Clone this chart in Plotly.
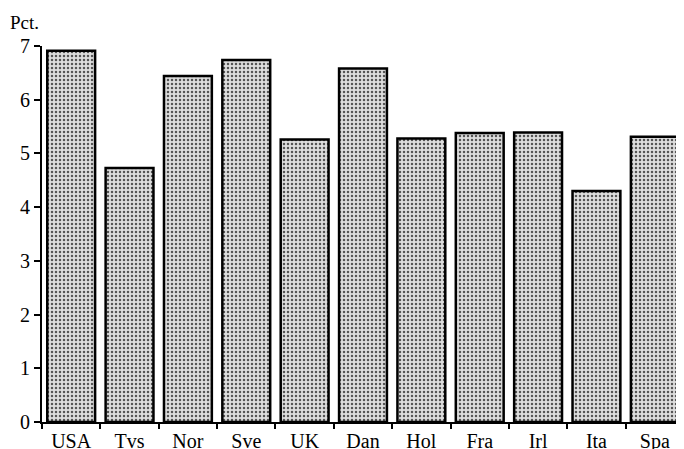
import plotly.graph_objects as go

countries = ["USA", "Tvs", "Nor", "Sve", "UK", "Dan", "Hol", "Fra", "Irl", "Ita", "Spa"]
values = [6.91, 4.73, 6.44, 6.74, 5.26, 6.58, 5.28, 5.38, 5.39, 4.30, 5.31]
y_ticks = [0, 1, 2, 3, 4, 5, 6, 7]

fig = go.Figure(
    go.Bar(
        x=countries,
        y=values,
        marker=dict(
            color="#d4d4d4",
            line=dict(color="black", width=2.5),
            pattern=dict(shape=".", fgcolor="#555555", bgcolor="#dedede",
                         size=4, solidity=0.3, fillmode="replace"),
        ),
        hoverinfo="x+y",
    )
)

fig.update_layout(
    width=676,
    height=441,
    margin=dict(l=34, r=0, t=38, b=27),
    paper_bgcolor="white",
    plot_bgcolor="white",
    bargap=0.18,
    showlegend=False,
    font=dict(family="Liberation Serif", size=20, color="black"),
    xaxis=dict(
        showline=True, linecolor="black", linewidth=2,
        ticks="outside", tickson="boundaries", ticklen=5, tickwidth=1.5, tickcolor="black",
        showgrid=False, automargin=False, tickfont=dict(size=20),
    ),
    yaxis=dict(
        range=[0, 7], tickvals=y_ticks,
        showline=True, linecolor="black", linewidth=2,
        ticks="outside", ticklen=6, tickwidth=1.5, tickcolor="black",
        showgrid=False, zeroline=False, automargin=False, tickfont=dict(size=20),
    ),
    annotations=[
        dict(text="Pct.", xref="paper", yref="paper", x=0, y=1,
             xanchor="left", yanchor="middle", xshift=-34, yshift=24,
             showarrow=False, font=dict(family="Liberation Serif", size=19, color="black")),
    ],
)

fig.write_html("out.html")
